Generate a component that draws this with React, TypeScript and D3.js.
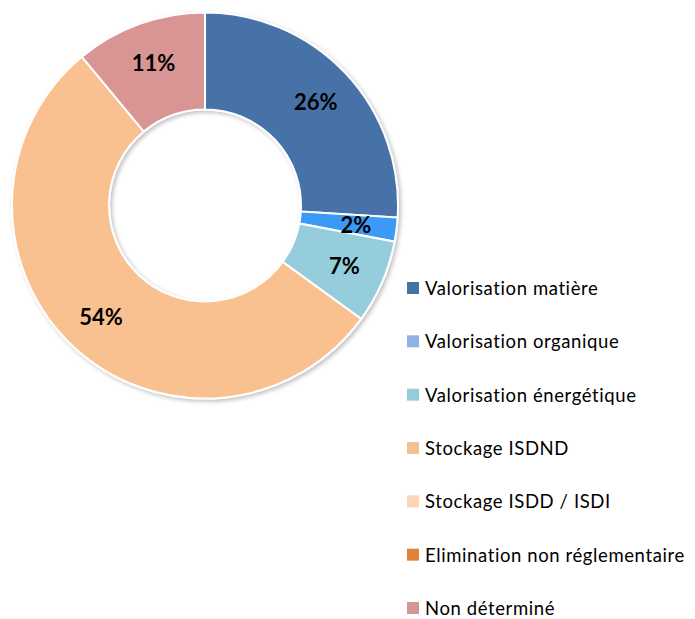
import * as d3 from "d3";

const categories = [
  "Valorisation matière",
  "Valorisation organique",
  "Valorisation énergétique",
  "Stockage ISDND",
  "Stockage ISDD / ISDI",
  "Elimination non réglementaire",
  "Non déterminé",
];
const values = [26, 2, 7, 54, 0, 0, 11];
const sliceColors = ["#4672A7", "#3A9AF6", "#95CDDD", "#F9C090", "#FCD5B5", "#E0823A", "#D99594"];
const legendColors = ["#4672A7", "#8DB3E2", "#95CDDD", "#F9C090", "#FCD5B5", "#E0823A", "#D99594"];

const width = 695;
const height = 619;
const cx = 205;
const cy = 205.5;
const outerR = 193;
const innerR = 96;

type Slice = { label: string; value: number; color: string };

export default function App() {
  const data: Slice[] = categories.map((c, i) => ({ label: c, value: values[i], color: sliceColors[i] }));
  const pie = d3
    .pie<Slice>()
    .value((d) => d.value)
    .sort(null);
  const arcs = pie(data);
  const arc = d3.arc<d3.PieArcDatum<Slice>>().innerRadius(innerR).outerRadius(outerR);
  const labelArc = d3.arc<d3.PieArcDatum<Slice>>().innerRadius(152).outerRadius(152);
  const total = d3.sum(values);

  const legendY = d3.scalePoint<string>().domain(categories).range([288, 608]);

  return (
    <svg
      width={width}
      height={height}
      style={{ position: "absolute", left: 0, top: 0, background: "#fff" }}
    >
      <defs>
        <filter id="shadow" x="-10%" y="-10%" width="120%" height="120%">
          <feDropShadow dx="2" dy="2" stdDeviation="2" floodColor="#000" floodOpacity="0.25" />
        </filter>
      </defs>
      <g transform={`translate(${cx},${cy})`}>
        <g filter="url(#shadow)">
          {arcs
            .filter((a) => a.value > 0)
            .map((a, i) => (
              <path key={i} d={arc(a) || ""} fill={a.data.color} stroke="#fff" strokeWidth={2} />
            ))}
        </g>
        {arcs
          .filter((a) => a.value > 0)
          .map((a, i) => {
            const [x, y] = labelArc.centroid(a);
            return (
              <text
                key={i}
                x={x}
                y={y}
                textAnchor="middle"
                dominantBaseline="central"
                fontFamily="Lato, 'Open Sans', sans-serif"
                fontWeight="bold"
                fontSize={22}
                fill="#000"
              >
                {Math.round((a.value / total) * 100)}%
              </text>
            );
          })}
      </g>
      <g>
        {categories.map((c, i) => (
          <g key={c} transform={`translate(407,${legendY(c)})`}>
            <rect x={0} y={-6} width={12} height={12} fill={legendColors[i]} />
            <text
              x={18}
              y={0}
              dominantBaseline="central"
              fontFamily="Lato, 'Open Sans', sans-serif"
              fontSize={18.5}
              fill="#000"
              letterSpacing={0.6}
            >
              {c}
            </text>
          </g>
        ))}
      </g>
    </svg>
  );
}
